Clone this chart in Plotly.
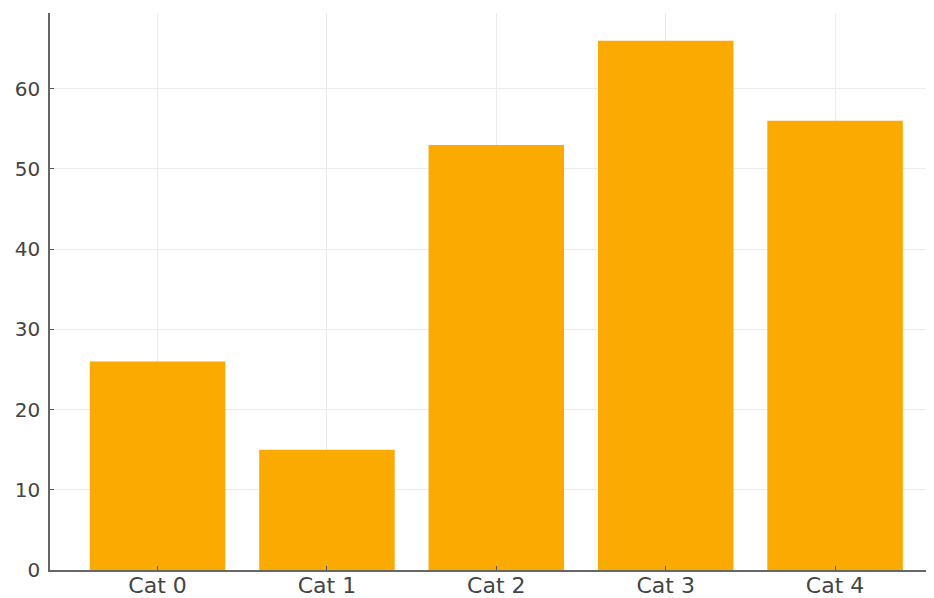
import plotly.graph_objects as go

categories = ["Cat 0", "Cat 1", "Cat 2", "Cat 3", "Cat 4"]
values = [26, 15, 53, 66, 56]
y_ticks = [0, 10, 20, 30, 40, 50, 60]

fig = go.Figure(go.Bar(
    x=list(range(len(categories))), y=values, width=0.8,
    marker=dict(color="#FAAA00", line=dict(width=0)),
))

# the page body has an 8px default margin, so the figure is 8px smaller
y_font = dict(family="DejaVu Sans", size=20, color="#444444")
x_font = dict(family="DejaVu Sans", size=22, color="#444444")
fig.update_layout(
    width=926, height=590,
    margin=dict(l=42, r=0, t=5, b=28, autoexpand=False),
    paper_bgcolor="white", plot_bgcolor="white",
    showlegend=False,
    xaxis=dict(
        range=[-0.635, 4.584], tickmode="array",
        tickvals=list(range(len(categories))), ticktext=categories,
        showgrid=True, gridcolor="#ebebeb", gridwidth=1,
        showline=True, linecolor="#666666", linewidth=1.5,
        ticks="inside", ticklen=4, tickcolor="#555555",
        tickfont=x_font, zeroline=False, automargin=False,
        ticklabelstandoff=-5,
    ),
    yaxis=dict(
        range=[0, 69.45], tickmode="array", tickvals=y_ticks,
        showgrid=True, gridcolor="#ebebeb", gridwidth=1,
        showline=True, linecolor="#666666", linewidth=1.5,
        ticks="inside", ticklen=4, tickcolor="#555555",
        tickfont=y_font, zeroline=False, ticklabelstandoff=4,
        automargin=False,
    ),
)

fig.write_html("out.html")
